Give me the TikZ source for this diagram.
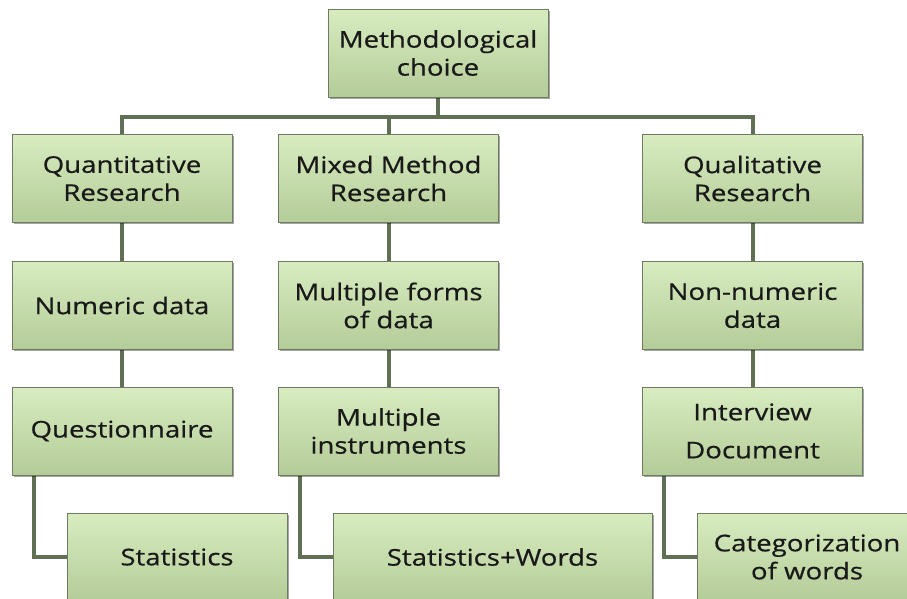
\documentclass[tikz,border=0pt]{standalone}
\usepackage{fontspec}
\newfontfamily\boxfont[FakeStretch=1.2,FakeBold=0.6]{Open Sans}
\usetikzlibrary{shadows,backgrounds}
\definecolor{boxtop}{RGB}{216,236,192}
\definecolor{boxbot}{RGB}{180,204,152}
\definecolor{boxedge}{RGB}{110,122,100}
\definecolor{linkcol}{RGB}{96,112,84}
\tikzset{
  box/.style={rectangle, draw=boxedge, line width=0.8pt,
    top color=boxtop, bottom color=boxbot,
    minimum width=220pt, minimum height=88pt, inner sep=2pt,
    align=center, font=\boxfont\fontsize{23}{28}\selectfont, text=black!90,
    drop shadow={shadow xshift=1.5pt, shadow yshift=-1.8pt, opacity=0.35, fill=black}},
  link/.style={draw=linkcol, line width=4pt}
}
\begin{document}
\begin{tikzpicture}[x=1pt,y=-1pt]
\useasboundingbox (0,0) rectangle (907,598);
\clip (0,0) rectangle (907,598);

% boxes
\node[box] (top) at (438,53) {Methodological\\choice};

\node[box] (quant) at (122,178.5) {Quantitative\\Research};
\node[box] (mixed) at (388.5,178.5) {Mixed Method\\Research};
\node[box] (qual)  at (752.5,178.5) {Qualitative\\Research};

\node[box] (numeric) at (122,305.5) {Numeric data};
\node[box] (forms)   at (388.5,305.5) {Multiple forms\\of data};
\node[box] (nonnum)  at (752.5,305.5) {Non-numeric\\data};

\node[box] (quest)  at (122,431) {Questionnaire};
\node[box] (instr)  at (388.5,431) {Multiple\\instruments};
\node[box] (interv) at (752.5,431) {Interview\\[10pt]Document};

\node[box] (stats)  at (177,557) {Statistics};
\node[box, minimum width=319pt] (statw) at (492.5,557) {Statistics+Words};
\node[box] (categ)  at (807,557) {Categorization\\of words};

\coordinate (hub) at (438,117);

% connectors behind the boxes
\begin{scope}[on background layer]
  \fill[white] (0,0) rectangle (907,598);
  \draw[link] (top.south) -- (hub);
  \draw[link] (quant.north) |- (hub) -| (qual.north);
  \draw[link] (hub -| mixed.north) -- (mixed.north);

  \draw[link] (quant.south) -- (numeric.north);
  \draw[link] (numeric.south) -- (quest.north);
  \draw[link] (mixed.south) -- (forms.north);
  \draw[link] (forms.south) -- (instr.north);
  \draw[link] (qual.south) -- (nonnum.north);
  \draw[link] (nonnum.south) -- (interv.north);

  \draw[link] ([xshift=22pt]quest.south west) |- (stats.west);
  \draw[link] ([xshift=22pt]instr.south west) |- (statw.west);
  \draw[link] ([xshift=22pt]interv.south west) |- (categ.west);
\end{scope}
\end{tikzpicture}
\end{document}
